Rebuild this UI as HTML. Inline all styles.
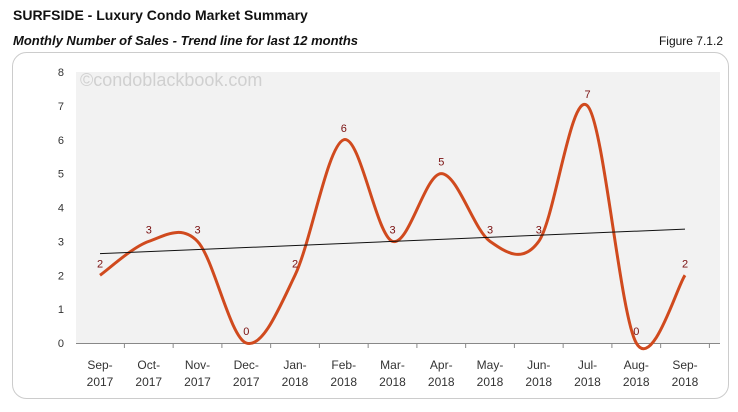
<!DOCTYPE html>
<html><head><meta charset="utf-8"><style>
body{margin:0;background:#fff;width:738px;height:407px;overflow:hidden;font-family:"Liberation Sans",Arial,sans-serif;}
</style></head><body>
<svg width="738" height="407">
<text x="13" y="20" font-size="14" font-weight="bold" fill="#111">SURFSIDE - Luxury Condo Market Summary</text>
<text x="13" y="45" font-size="13" font-weight="bold" font-style="italic" fill="#111">Monthly Number of Sales - Trend line for last 12 months</text>
<text x="723" y="45" font-size="12" text-anchor="end" fill="#111">Figure 7.1.2</text>
<rect x="12.5" y="52.5" width="716" height="346" rx="14" fill="#fff" stroke="#ccc"/>
<rect x="76" y="72" width="644" height="271" fill="#f2f2f2"/>
<text x="80" y="86" font-size="18" fill="#d0d0d0">©condoblackbook.com</text>
<g id="g"></g>
</svg>
<script>
const categories=[["Sep-","2017"],["Oct-","2017"],["Nov-","2017"],["Dec-","2017"],["Jan-","2018"],["Feb-","2018"],["Mar-","2018"],["Apr-","2018"],["May-","2018"],["Jun-","2018"],["Jul-","2018"],["Aug-","2018"],["Sep-","2018"]];
const sales=[2,3,3,0,2,6,3,5,3,3,7,0,2];
const yTicks=[0,1,2,3,4,5,6,7,8];
const NS="http://www.w3.org/2000/svg",g=document.getElementById('g');
const X=i=>100+i*48.75, Y=v=>343-v*(271/8);
function mk(t,a,txt){const e=document.createElementNS(NS,t);for(const k in a)e.setAttribute(k,a[k]);if(txt!=null)e.textContent=txt;g.appendChild(e);return e;}
yTicks.forEach(v=>{const t=mk('text',{x:64,y:Y(v)+4,'font-size':11,'text-anchor':'end',fill:'#333'},v);

});
const ax=mk('line',{x1:76,y1:343.5,x2:720,y2:343.5,stroke:'#888'});


categories.forEach((c,i)=>{const x=X(i);
const tk=mk('line',{x1:x+24.4,y1:343,x2:x+24.4,y2:348,stroke:'#888'});


const t=mk('text',{x:x,y:369,'font-size':12,'text-anchor':'middle',fill:'#333'});


const a=document.createElementNS(NS,'tspan');a.setAttribute('x',x);a.textContent=c[0];t.appendChild(a);
const b=document.createElementNS(NS,'tspan');b.setAttribute('x',x);b.setAttribute('dy',17);b.textContent=c[1];t.appendChild(b);});
// trend
const n=sales.length,mx=(n-1)/2,my=sales.reduce((a,b)=>a+b,0)/n;let sxy=0,sxx=0;
sales.forEach((v,i)=>{sxy+=(i-mx)*(v-my);sxx+=(i-mx)**2;});const sl=sxy/sxx,ic=my-sl*mx;
// smooth line
const P=sales.map((v,i)=>[X(i),Y(v)]);let d=`M${P[0][0]},${P[0][1]}`;
for(let i=0;i<n-1;i++){const p0=P[Math.max(0,i-1)],p1=P[i],p2=P[i+1],p3=P[Math.min(n-1,i+2)];
const c1=[p1[0]+(p2[0]-p0[0])/6,p1[1]+(p2[1]-p0[1])/6],c2=[p2[0]-(p3[0]-p1[0])/6,p2[1]-(p3[1]-p1[1])/6];
d+=` C${c1[0]},${c1[1]} ${c2[0]},${c2[1]} ${p2[0]},${p2[1]}`;}
const ln=mk('path',{d:d,fill:'none',stroke:'#d04a1e','stroke-width':3});


const tr=mk('line',{x1:X(0),y1:Y(ic),x2:X(n-1),y2:Y(ic+sl*(n-1)),stroke:'#111','stroke-width':1});


sales.forEach((v,i)=>{const t=mk('text',{x:X(i),y:Y(v)-8,'font-size':11,'text-anchor':'middle',fill:'#7a1010'},v);

});
</script>
</body></html>
